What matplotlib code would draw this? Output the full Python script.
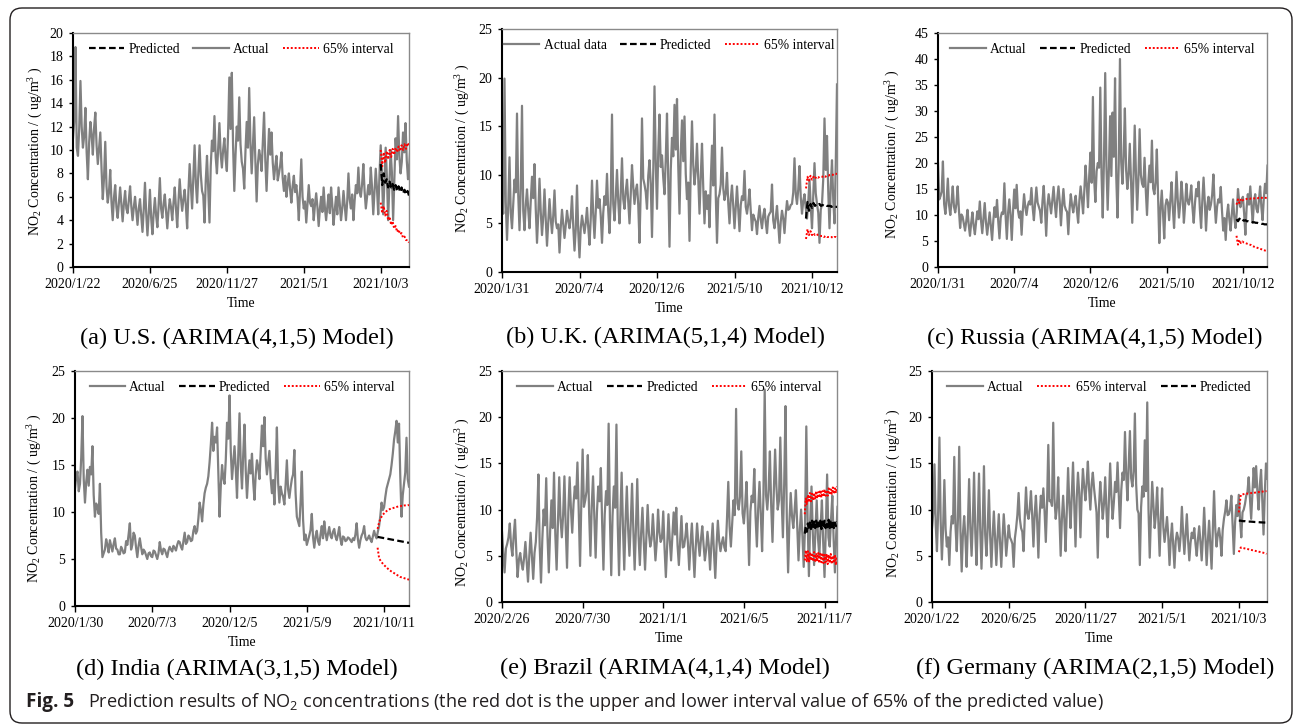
import numpy as np
import matplotlib.pyplot as plt
from matplotlib.patches import FancyBboxPatch
from matplotlib.transforms import IdentityTransform

plt.rcParams['font.family'] = 'Liberation Serif'
plt.rcParams['mathtext.default'] = 'regular'

# actual NO2 values, one reading every 2.5 days from the first tick date
us_actual = [11.0, 12.5, 18.8, 10.2, 9.5, 11.8, 15.9, 12.0, 10.2, 11.2, 13.6, 9.8, 7.5, 10.6, 12.4, 11.3, 9.6, 11.9, 13.2, 10.4,
             8.8, 10.1, 11.5, 8.4, 5.8, 7.6, 10.7, 6.9, 5.5, 6.4, 8.3, 5.6, 4.0, 5.9, 7.0, 5.1, 4.2, 5.5, 6.8, 5.3,
             3.9, 5.4, 6.5, 5.0, 4.6, 5.7, 6.9, 5.2, 4.0, 5.1, 6.0, 4.8, 3.6, 5.0, 5.8, 4.4, 3.0, 4.9, 7.2, 4.6,
             2.7, 4.5, 6.6, 4.2, 2.8, 4.6, 5.9, 4.4, 3.4, 5.3, 7.6, 5.0, 4.2, 5.4, 6.2, 4.7, 3.3, 4.8, 5.8, 5.1,
             4.0, 5.5, 6.8, 5.0, 3.4, 5.6, 7.5, 5.9, 4.8, 5.8, 6.6, 5.2, 3.3, 6.4, 8.8, 6.9, 5.0, 7.6, 10.4, 7.2,
             5.5, 8.0, 10.4, 7.9, 6.5, 6.1, 3.8, 7.4, 9.5, 6.7, 3.8, 8.6, 10.8, 9.9, 12.9, 9.4, 8.0, 10.1, 12.3, 9.7,
             8.5, 10.0, 11.0, 9.3, 8.2, 11.5, 16.2, 11.8, 16.6, 10.4, 6.5, 9.6, 12.0, 10.8, 14.5, 10.5, 9.0, 8.4, 6.7, 9.9,
             12.4, 10.2, 15.3, 10.6, 8.0, 10.3, 12.8, 9.0, 5.6, 8.8, 10.0, 9.4, 8.2, 10.7, 13.2, 9.1, 6.5, 9.3, 11.8, 9.6,
             11.5, 8.9, 7.5, 8.6, 9.5, 7.4, 8.0, 8.7, 9.8, 7.6, 6.5, 7.8, 6.0, 7.1, 8.0, 6.6, 5.5, 6.9, 7.8, 6.4,
             7.0, 5.9, 4.0, 6.6, 9.2, 6.0, 5.0, 5.6, 3.8, 5.4, 7.0, 5.5, 5.2, 5.8, 4.0, 5.3, 6.3, 5.1, 3.5, 5.0,
             6.0, 4.7, 6.8, 5.1, 4.0, 5.2, 6.2, 4.6, 6.8, 5.3, 3.6, 4.9, 6.0, 4.5, 6.8, 5.4, 4.0, 5.0, 6.5, 5.2,
             4.0, 5.6, 8.0, 5.8, 5.0, 6.2, 4.0, 5.7, 7.0, 6.3, 8.5, 6.4, 6.0, 7.1, 8.8, 6.5, 5.0, 6.0, 7.0, 6.2,
             8.5, 6.8, 4.5, 6.5, 8.4, 6.7, 4.5, 7.9, 10.4, 7.8, 4.5, 7.4, 10.2, 7.7, 4.0, 7.2, 10.0, 8.1, 4.0, 7.5,
             11.0, 9.2, 12.9, 9.5, 8.0, 9.0, 11.5, 9.8, 12.3, 9.1, 7.5, 8.7, 10.5]
uk_actual = [7.3, 6.0, 19.9, 7.2, 3.3, 6.8, 11.8, 6.1, 4.5, 7.0, 9.5, 8.2, 16.3, 7.9, 4.3, 8.6, 17.1, 6.3, 4.3, 6.9,
             8.5, 6.4, 4.5, 7.3, 9.8, 7.6, 11.1, 6.5, 3.0, 5.9, 9.6, 6.2, 3.8, 5.7, 8.5, 5.4, 2.7, 5.1, 7.5, 5.5,
             4.0, 5.8, 8.4, 5.2, 4.5, 4.9, 2.0, 4.6, 6.4, 5.0, 3.5, 4.8, 6.3, 5.3, 4.5, 5.6, 7.8, 4.7, 2.2, 4.4,
             8.9, 4.2, 1.5, 4.5, 5.8, 4.9, 4.0, 5.1, 6.6, 4.6, 2.8, 5.5, 9.4, 5.9, 3.5, 6.2, 9.4, 6.6, 7.5, 5.8,
             3.0, 6.1, 7.8, 6.9, 10.1, 6.3, 4.0, 7.4, 16.2, 7.0, 5.3, 7.7, 10.5, 7.3, 5.0, 8.1, 11.7, 7.5, 6.5, 8.3,
             9.5, 7.2, 5.0, 8.0, 11.0, 8.8, 7.0, 8.4, 9.0, 6.9, 3.0, 8.5, 15.8, 9.6, 9.0, 8.2, 6.5, 9.9, 11.5, 9.1,
             3.6, 10.3, 19.1, 11.2, 6.5, 12.4, 16.2, 10.8, 12.0, 9.7, 8.0, 11.6, 16.3, 9.4, 2.6, 10.5, 13.8, 11.9, 17.2, 12.6,
             17.8, 10.9, 6.0, 12.2, 15.6, 11.4, 16.0, 10.1, 7.5, 9.2, 3.2, 10.7, 15.5, 11.0, 9.0, 10.4, 13.2, 9.5, 6.0, 9.8,
             13.2, 8.7, 5.0, 8.3, 6.5, 7.9, 4.6, 9.3, 13.0, 8.9, 16.2, 8.0, 3.0, 7.6, 8.0, 9.0, 12.8, 8.6, 7.4, 8.1,
             10.2, 7.1, 5.0, 7.5, 8.9, 6.8, 4.5, 6.6, 8.8, 6.4, 4.2, 6.9, 7.8, 7.4, 10.4, 6.7, 6.0, 7.0, 8.5, 6.3,
             4.3, 5.9, 5.5, 5.2, 3.9, 5.6, 6.8, 5.4, 4.5, 5.8, 6.5, 5.1, 4.0, 5.7, 6.0, 6.2, 9.0, 5.3, 4.5, 5.6,
             6.8, 4.9, 3.0, 5.2, 6.3, 5.5, 4.0, 5.9, 7.3, 6.4, 6.5, 6.9, 7.0, 8.2, 11.7, 8.0, 7.0, 8.5, 10.9, 7.7,
             6.0, 7.3, 8.0, 6.6, 5.5, 7.2, 9.5, 6.8, 4.5, 7.9, 11.2, 8.1, 7.0, 6.1, 3.0, 6.4, 7.0, 9.6, 15.8, 10.5,
             14.0, 8.3, 4.5, 8.8, 11.5, 7.5, 5.0, 11.0, 19.3]
ru_actual = [20.0, 13.0, 13.6, 14.5, 20.3, 12.1, 10.2, 12.8, 17.0, 11.9, 10.0, 12.5, 15.5, 11.6, 10.5, 12.2, 15.5, 11.0, 7.5, 10.1,
             9.7, 8.4, 7.0, 8.8, 11.0, 8.1, 6.0, 8.5, 10.5, 7.9, 6.3, 8.7, 10.7, 9.2, 12.6, 8.9, 6.5, 9.4, 12.3, 8.6,
             6.2, 8.3, 10.5, 7.8, 5.2, 9.0, 11.5, 9.6, 12.9, 8.8, 5.5, 9.5, 10.5, 10.2, 16.1, 9.8, 5.4, 10.4, 13.0, 10.0,
             5.2, 10.6, 14.9, 11.3, 15.8, 11.0, 9.5, 10.7, 6.2, 10.9, 14.0, 11.5, 10.0, 11.8, 12.6, 12.0, 15.2, 11.4, 9.0, 12.3,
             15.3, 12.4, 11.6, 10.8, 8.5, 12.7, 15.6, 11.2, 6.0, 11.7, 14.0, 12.1, 10.3, 12.9, 15.4, 12.2, 9.6, 13.1, 15.5, 12.6,
             8.0, 12.0, 15.0, 11.8, 11.0, 10.6, 6.3, 11.1, 14.0, 11.9, 10.5, 12.3, 13.7, 10.9, 8.5, 12.8, 15.5, 13.2, 10.3, 14.6,
             19.5, 15.8, 11.5, 17.6, 22.0, 16.2, 32.7, 17.0, 12.5, 18.4, 20.0, 19.1, 34.5, 18.0, 9.5, 20.6, 37.3, 19.4, 11.0, 18.8,
             29.0, 17.5, 29.7, 21.2, 36.3, 17.3, 9.5, 19.8, 40.0, 20.3, 16.0, 21.5, 30.5, 18.7, 15.0, 17.9, 23.7, 16.6, 8.5, 17.2,
             27.2, 18.1, 11.0, 16.9, 26.5, 17.7, 16.0, 15.4, 21.0, 14.8, 10.0, 15.9, 19.5, 16.3, 24.3, 15.1, 14.0, 16.4, 22.6, 13.8,
             4.6, 11.2, 14.7, 10.4, 5.5, 11.8, 13.0, 12.4, 9.0, 12.9, 16.3, 11.5, 7.5, 12.6, 18.3, 13.0, 9.5, 12.1, 16.4, 13.4,
             8.5, 11.9, 16.0, 12.7, 12.0, 13.3, 15.7, 11.4, 8.5, 12.2, 15.0, 13.6, 16.4, 11.1, 7.5, 12.8, 17.2, 12.5, 7.0, 11.7,
             13.5, 11.0, 12.0, 13.9, 17.8, 12.3, 8.5, 11.6, 13.0, 12.4, 15.4, 10.8, 7.0, 9.4, 5.2, 9.9, 12.0, 9.1, 7.0, 10.2,
             13.0, 9.6, 7.5, 10.5, 15.0, 12.4, 11.5, 12.9, 13.5, 10.3, 6.2, 11.3, 14.0, 12.0, 15.5, 11.8, 8.5, 12.6, 14.0, 11.2,
             10.5, 12.7, 15.5, 11.6, 9.0, 13.1, 16.0, 14.2, 19.5]
in_actual = [12.5, 13.8, 14.3, 12.2, 13.0, 15.8, 20.2, 13.5, 11.0, 13.2, 14.5, 12.8, 14.8, 14.0, 17.0, 11.8, 9.5, 10.9, 10.5, 9.8,
             13.0, 7.8, 5.2, 5.6, 6.0, 7.1, 6.5, 5.7, 7.0, 6.4, 5.8, 6.6, 7.2, 6.1, 6.0, 5.5, 5.5, 6.3, 6.0, 5.6,
             5.7, 6.9, 6.5, 7.6, 8.8, 6.0, 6.5, 7.8, 7.5, 6.2, 5.2, 6.4, 7.2, 6.3, 5.5, 6.0, 5.8, 5.4, 5.0, 5.6,
             5.7, 5.3, 5.2, 5.9, 5.8, 5.4, 5.0, 5.6, 6.8, 5.9, 5.5, 6.1, 6.0, 5.6, 5.2, 5.9, 6.3, 6.0, 5.8, 6.4,
             6.2, 5.9, 6.5, 6.9, 6.8, 6.3, 6.0, 6.9, 7.8, 6.6, 6.8, 7.5, 7.3, 6.9, 7.0, 8.0, 8.5, 7.7, 8.0, 9.3,
             11.0, 10.2, 9.0, 10.8, 12.0, 12.6, 13.0, 13.8, 15.3, 17.2, 19.5, 16.5, 18.0, 17.4, 19.0, 14.2, 9.5, 12.8, 15.0, 13.6,
             13.0, 15.6, 19.5, 17.8, 22.4, 16.4, 13.5, 15.2, 17.0, 14.6, 11.5, 16.0, 20.5, 15.0, 12.5, 16.2, 19.3, 14.4, 11.5, 13.9,
             15.5, 14.1, 16.2, 13.2, 11.3, 14.0, 15.5, 14.8, 13.5, 16.4, 19.2, 17.0, 20.1, 15.7, 14.0, 15.3, 16.5, 13.6, 12.0, 13.4,
             10.8, 14.5, 19.0, 13.1, 11.0, 12.7, 12.0, 11.6, 10.8, 12.9, 15.5, 12.4, 11.5, 12.6, 13.5, 14.0, 16.6, 12.0, 9.5, 9.0,
             8.5, 11.0, 14.3, 9.2, 7.0, 7.6, 6.5, 7.0, 7.5, 8.1, 9.8, 7.3, 6.2, 7.4, 8.0, 6.9, 6.5, 7.6, 8.5, 7.2,
             9.0, 7.8, 7.0, 7.7, 8.4, 7.5, 7.2, 7.9, 8.2, 7.4, 7.0, 7.6, 8.4, 7.1, 6.5, 7.4, 7.3, 6.9, 7.0, 7.3,
             7.2, 7.0, 6.8, 7.2, 7.0, 7.6, 8.8, 7.1, 6.2, 7.0, 7.5, 7.8, 8.5, 7.3, 7.0, 7.2, 7.5, 7.1, 6.8, 7.4,
             8.0, 7.5, 7.2, 7.9, 8.5, 9.6, 11.0, 10.2, 10.5, 11.6, 12.5, 13.0, 13.5, 14.0, 15.0, 16.2, 17.7, 18.6, 19.7, 17.4,
             19.4, 13.8, 9.5, 11.8, 13.0, 14.2, 17.9, 13.5, 12.7]
br_actual = [7.6, 5.2, 3.2, 5.8, 6.3, 7.0, 8.5, 6.1, 5.0, 7.2, 8.9, 5.5, 2.7, 4.6, 5.3, 4.2, 3.5, 4.8, 6.5, 4.4,
             2.2, 5.0, 7.5, 4.9, 2.5, 5.3, 6.5, 9.2, 13.8, 6.0, 2.1, 6.8, 10.0, 8.3, 13.4, 7.1, 3.2, 7.6, 11.0, 8.0,
             14.0, 7.3, 3.5, 8.7, 13.5, 9.0, 7.0, 9.4, 13.6, 8.1, 3.7, 9.8, 13.5, 10.1, 7.5, 10.6, 12.5, 11.2, 15.1, 9.9,
             3.9, 10.8, 16.5, 10.3, 11.0, 12.0, 15.9, 9.6, 5.0, 10.4, 13.6, 9.2, 4.8, 9.7, 12.5, 10.9, 14.5, 8.6, 3.5, 9.5,
             12.0, 10.5, 19.3, 8.9, 2.9, 9.3, 12.5, 10.2, 19.2, 8.4, 2.9, 9.1, 14.0, 8.2, 3.5, 8.8, 12.5, 7.9, 5.0, 8.5,
             12.8, 7.7, 3.5, 8.0, 13.3, 7.2, 4.0, 7.5, 10.2, 6.6, 3.5, 7.0, 10.5, 7.4, 6.0, 6.8, 9.5, 7.1, 4.5, 6.5,
             10.0, 7.6, 6.5, 6.9, 9.8, 5.8, 2.7, 6.2, 9.5, 6.7, 4.5, 7.0, 9.7, 7.3, 10.2, 6.1, 4.0, 6.6, 9.3, 5.9,
             6.0, 7.1, 8.5, 6.3, 3.5, 6.4, 8.5, 5.6, 2.7, 6.0, 8.5, 6.5, 5.0, 6.8, 8.2, 6.2, 4.5, 5.7, 7.6, 6.1,
             3.5, 6.3, 8.5, 5.4, 2.6, 6.2, 8.8, 6.6, 5.5, 6.4, 7.0, 5.9, 5.5, 9.0, 13.0, 8.2, 6.0, 8.6, 11.0, 9.4,
             20.9, 10.7, 10.0, 11.4, 16.3, 9.6, 8.5, 10.5, 13.0, 8.9, 4.0, 9.8, 11.5, 10.8, 14.4, 9.2, 6.0, 10.1, 13.0, 9.5,
             5.5, 11.3, 23.0, 11.6, 10.0, 12.2, 16.3, 10.4, 6.5, 11.9, 16.5, 12.5, 10.0, 11.0, 17.8, 11.4, 7.0, 12.8, 21.2, 9.1,
             3.2, 8.6, 11.8, 9.3, 8.0, 9.9, 12.1, 8.4, 4.5, 7.8, 10.0, 7.2, 3.8, 8.1, 19.0, 9.0, 2.8, 8.7, 12.5, 7.4,
             4.0, 7.7, 11.0, 6.9, 5.0, 8.2, 11.0, 6.4, 2.7, 7.9, 13.8, 7.0, 6.0, 8.9, 11.5, 6.8, 3.2, 7.3, 10.3]
de_actual = [8.0, 9.6, 14.9, 8.4, 5.5, 9.9, 17.8, 8.8, 4.6, 8.1, 13.2, 7.9, 6.0, 7.0, 4.0, 7.6, 9.3, 8.5, 15.7, 8.2,
             5.5, 9.1, 16.8, 7.7, 3.3, 7.4, 9.3, 6.9, 3.8, 8.3, 13.3, 8.0, 5.0, 8.7, 14.0, 7.5, 4.0, 8.6, 13.9, 7.8,
             3.6, 8.2, 14.7, 7.3, 5.0, 8.0, 12.1, 7.2, 3.8, 7.1, 9.8, 6.8, 4.0, 7.0, 9.5, 6.5, 3.8, 6.9, 9.5, 7.4,
             5.0, 6.6, 8.3, 7.0, 6.7, 6.3, 3.8, 6.9, 8.0, 9.4, 11.8, 9.0, 8.0, 7.6, 5.5, 9.2, 12.4, 9.6, 9.0, 10.1,
             12.0, 9.3, 6.0, 9.5, 11.5, 8.7, 4.8, 9.4, 11.5, 10.2, 12.3, 9.8, 6.5, 10.6, 17.0, 10.9, 11.0, 10.4, 19.4, 11.2,
             9.0, 10.3, 13.5, 9.2, 5.0, 9.0, 11.5, 8.9, 5.5, 10.0, 14.5, 10.7, 8.0, 11.4, 15.1, 10.5, 6.0, 11.3, 14.0, 11.8,
             7.0, 11.6, 14.4, 12.5, 11.0, 12.9, 15.2, 12.2, 10.0, 12.7, 14.0, 12.3, 11.0, 9.7, 4.8, 10.3, 13.0, 11.1, 9.0, 10.6,
             13.5, 10.0, 7.0, 10.9, 15.0, 11.5, 9.0, 10.8, 13.0, 11.9, 15.1, 11.7, 8.0, 12.1, 14.0, 13.2, 18.4, 13.8, 11.0, 14.6,
             18.5, 13.4, 12.5, 14.1, 20.4, 12.8, 10.0, 9.6, 4.0, 10.2, 12.5, 11.4, 17.5, 12.0, 21.6, 10.1, 4.8, 9.3, 13.0, 10.4,
             8.0, 9.5, 12.4, 8.8, 5.0, 9.1, 12.3, 8.1, 6.5, 7.8, 9.2, 7.1, 4.0, 6.8, 8.5, 6.2, 3.7, 6.6, 7.5, 6.9,
             5.5, 7.2, 10.3, 7.4, 5.2, 7.3, 9.5, 6.7, 4.5, 6.4, 7.5, 6.9, 8.0, 6.3, 5.0, 6.8, 8.2, 6.5, 4.5, 7.0,
             10.2, 7.1, 4.0, 6.6, 8.8, 6.1, 3.6, 7.7, 12.0, 7.9, 6.0, 7.3, 8.0, 6.9, 5.0, 7.8, 9.0, 9.8, 11.0, 9.4,
             9.5, 10.1, 11.5, 8.3, 5.2, 8.6, 10.5, 9.3, 11.6, 9.0, 7.0, 9.7, 10.0, 10.6, 11.5, 11.9, 13.5, 11.2, 9.0, 11.8,
             14.5, 12.4, 14.7, 12.0, 10.0, 12.6, 14.3, 11.0, 7.3, 11.7, 15.0, 13.3, 14.9]

# forecast window: predicted value and 65% interval bounds
us_pred = [8.8, 7.0, 8.0, 7.2, 7.5, 6.8, 7.3, 6.8, 7.1, 6.6, 7.0, 6.5, 6.9, 6.4, 6.8, 6.3, 6.6, 6.2, 6.5, 6.1]
us_upper = [10.0, 8.6, 9.8, 8.9, 9.9, 9.2, 10.0, 9.4, 10.1, 9.6, 10.2, 9.8, 10.3, 9.9, 10.4, 10.0, 10.5, 10.1, 10.6, 10.4]
us_lower = [5.5, 4.6, 5.2, 4.4, 4.8, 4.0, 4.3, 3.6, 3.9, 3.3, 3.5, 3.0, 3.2, 2.8, 2.9, 2.5, 2.6, 2.3, 2.3, 2.1]
uk_pred = [5.5, 7.2, 6.3, 7.0, 6.6, 7.1, 6.8, 7.0, 6.9, 7.0, 6.8, 6.9, 6.8, 6.9, 6.8, 6.8, 6.8, 6.7, 6.8, 6.7, 6.7, 6.7]
uk_upper = [8.6, 9.8, 9.4, 9.9, 9.5, 9.8, 9.6, 9.8, 9.7, 9.8, 9.8, 9.8, 9.9, 9.8, 9.9, 9.9, 10.0, 10.0, 10.0, 10.1, 10.1, 10.1]
uk_lower = [3.4, 4.4, 3.8, 4.2, 3.8, 4.0, 3.8, 3.9, 3.8, 3.8, 3.7, 3.7, 3.6, 3.7, 3.6, 3.6, 3.6, 3.6, 3.5, 3.6, 3.6, 3.5]
ru_pred = [9.2, 8.8, 9.3, 8.9, 9.1, 8.9, 9.0, 8.8, 8.8, 8.7, 8.7, 8.6, 8.6, 8.5, 8.5, 8.4, 8.4, 8.3, 8.3, 8.2, 8.2, 8.2]
ru_upper = [12.0, 13.0, 12.3, 13.1, 12.8, 13.0, 13.0, 13.1, 13.1, 13.1, 13.2, 13.2, 13.2, 13.2, 13.2, 13.3, 13.3, 13.3, 13.3, 13.3, 13.3, 13.3]
ru_lower = [6.0, 4.3, 5.2, 4.6, 4.9, 4.7, 4.6, 4.5, 4.4, 4.3, 4.2, 4.0, 3.9, 3.8, 3.7, 3.6, 3.5, 3.4, 3.3, 3.2, 3.1, 3.0]
in_pred = [7.35, 7.32, 7.29, 7.26, 7.23, 7.2, 7.17, 7.14, 7.11, 7.08, 7.05, 7.02, 6.99, 6.96, 6.93, 6.9, 6.87, 6.84, 6.81, 6.78, 6.75, 6.72]
in_upper = [8.2, 8.9, 9.3, 9.6, 9.8, 9.95, 10.1, 10.2, 10.3, 10.35, 10.4, 10.45, 10.5, 10.55, 10.6, 10.6, 10.65, 10.65, 10.7, 10.7, 10.7, 10.75]
in_lower = [6.2, 5.1, 4.8, 4.6, 4.4, 4.25, 4.1, 3.95, 3.8, 3.7, 3.6, 3.5, 3.4, 3.3, 3.2, 3.1, 3.05, 3.0, 2.95, 2.9, 2.85, 2.8]
br_pred = [7.4, 8.2, 7.6, 8.5, 7.8, 8.6, 7.9, 8.8, 7.9, 8.7, 8.0, 8.8, 7.9, 8.6, 8.1, 8.8,
           7.9, 8.7, 8.0, 8.8, 8.0, 8.6, 8.1, 8.9, 8.0, 8.7, 8.1, 8.8, 8.0, 8.6, 8.2, 8.7]
br_upper = [9.5, 11.2, 10.6, 11.6, 10.8, 11.8, 10.9, 11.9, 11.0, 11.8, 11.1, 12.0, 11.2, 11.9, 11.3, 12.1,
            11.3, 12.0, 11.4, 12.2, 11.5, 12.1, 11.5, 12.3, 11.6, 12.2, 11.7, 12.4, 11.7, 12.3, 11.8, 12.5]
br_lower = [4.5, 5.6, 4.4, 5.5, 4.3, 5.4, 4.5, 5.3, 4.4, 5.4, 4.3, 5.2, 4.4, 5.3, 4.2, 5.2,
            4.3, 5.3, 4.2, 5.1, 4.3, 5.2, 4.1, 5.1, 4.2, 5.2, 4.1, 5.0, 4.2, 5.1, 4.0, 5.0]
de_pred = [8.8, 8.8, 8.75, 8.75, 8.7, 8.7, 8.7, 8.68, 8.66, 8.65, 8.64, 8.62, 8.61, 8.6, 8.6]
de_upper = [9.7, 11.6, 11.65, 11.7, 11.72, 11.75, 11.78, 11.8, 11.83, 11.86, 11.9, 11.92, 11.95, 11.98, 12.0]
de_lower = [5.4, 5.9, 5.85, 5.8, 5.75, 5.7, 5.65, 5.6, 5.55, 5.5, 5.45, 5.4, 5.35, 5.3, 5.2]

us_ticks = ['2020/1/22', '2020/6/25', '2020/11/27', '2021/5/1', '2021/10/3']
uk_ticks = ['2020/1/31', '2020/7/4', '2020/12/6', '2021/5/10', '2021/10/12']
ru_ticks = ['2020/1/31', '2020/7/4', '2020/12/6', '2021/5/10', '2021/10/12']
in_ticks = ['2020/1/30', '2020/7/3', '2020/12/5', '2021/5/9', '2021/10/11']
br_ticks = ['2020/2/26', '2020/7/30', '2021/1/1', '2021/6/5', '2021/11/7']
de_ticks = ['2020/1/22', '2020/6/25', '2020/11/27', '2021/5/1', '2021/10/3']
tick_days = [0, 155, 310, 465, 620]

W, H = 1295, 726

panels = [
    dict(actual=us_actual, pred=us_pred, upper=us_upper, lower=us_lower, start=620, step=3,
         ticks=us_ticks, xmax=677, ymax=20, ystep=2, act_label='Actual', order=('pred', 'act', 'band'),
         box=(73, 33, 409, 267), ylab=(36, 151), xlab=303, title='(a) U.S. (ARIMA(4,1,5) Model)', tpos=(237, 338)),
    dict(actual=uk_actual, pred=uk_pred, upper=uk_upper, lower=uk_lower, start=608, step=3,
         ticks=uk_ticks, xmax=670, ymax=25, ystep=5, act_label='Actual data', order=('act', 'pred', 'band'),
         box=(502, 29, 837, 272), ylab=(463, 148), xlab=308, title='(b) U.K. (ARIMA(5,1,4) Model)', tpos=(665, 337)),
    dict(actual=ru_actual, pred=ru_pred, upper=ru_upper, lower=ru_lower, start=607, step=3,
         ticks=ru_ticks, xmax=669, ymax=45, ystep=5, act_label='Actual', order=('act', 'pred', 'band'),
         box=(938, 33, 1267, 267), ylab=(893, 154), xlab=303, title='(c) Russia (ARIMA(4,1,5) Model)', tpos=(1095, 338)),
    dict(actual=in_actual, pred=in_pred, upper=in_upper, lower=in_lower, start=607, step=3,
         ticks=in_ticks, xmax=670, ymax=25, ystep=5, act_label='Actual', order=('act', 'pred', 'band'),
         box=(75, 371, 409, 606), ylab=(35, 498), xlab=642, title='(d) India (ARIMA(3,1,5) Model)', tpos=(237, 669)),
    dict(actual=br_actual, pred=br_pred, upper=br_upper, lower=br_lower, start=582, step=2,
         ticks=br_ticks, xmax=644, ymax=25, ystep=5, act_label='Actual', order=('act', 'pred', 'band'),
         box=(502, 371, 837, 602), ylab=(463, 502), xlab=638, title='(e) Brazil (ARIMA(4,1,4) Model)', tpos=(665, 668)),
    dict(actual=de_actual, pred=de_pred, upper=de_upper, lower=de_lower, start=620, step=4,
         ticks=de_ticks, xmax=677, ymax=25, ystep=5, act_label='Actual', order=('act', 'band', 'pred'),
         box=(932, 371, 1267, 602), ylab=(894, 493), xlab=639, title='(f) Germany (ARIMA(2,1,5) Model)', tpos=(1095, 668)),
]

fig = plt.figure(figsize=(W / 100, H / 100), dpi=100)

for p in panels:
    l, t, r, b = p['box']
    ax = fig.add_axes([l / W, 1 - b / H, (r - l) / W, (b - t) / H])

    days = np.arange(len(p['actual'])) * 2.5
    h_act, = ax.plot(days, p['actual'], color='#808080', lw=1.6, zorder=2)
    up_days = p['start'] + np.arange(len(p['upper'])) * p['step']
    lo_days = p['start'] + np.arange(len(p['lower'])) * p['step']
    pr_days = p['start'] + np.arange(len(p['pred'])) * p['step']
    h_band, = ax.plot(up_days, p['upper'], color='red', ls=(0, (1, 1)), lw=1.4, zorder=3)
    ax.plot(lo_days, p['lower'], color='red', ls=(0, (1, 1)), lw=1.4, zorder=3)
    h_pred, = ax.plot(pr_days, p['pred'], color='black', ls=(0, (3, 1.5)), lw=1.6, zorder=4)

    handles = {'act': (h_act, p['act_label']), 'pred': (h_pred, 'Predicted'), 'band': (h_band, '65% interval')}
    hs = [handles[k][0] for k in p['order']]
    ls = [handles[k][1] for k in p['order']]
    ax.legend(hs, ls, loc='upper center', ncol=3, frameon=False, fontsize=9.8,
              handlelength=2.6, handletextpad=0.3, columnspacing=1.0, borderaxespad=0.3)

    ax.set_xlim(0, p['xmax'])
    ax.set_ylim(0, p['ymax'])
    ax.set_xticks(tick_days)
    ax.set_xticklabels(p['ticks'])
    ax.set_yticks(np.arange(0, p['ymax'] + 0.1, p['ystep']))
    ax.tick_params(axis='x', length=4, width=1, pad=4, labelsize=10)
    ax.tick_params(axis='y', length=3, width=1, pad=4, labelsize=10)
    for s in ['left', 'bottom']:
        ax.spines[s].set_linewidth(1.5)
    for s in ['top', 'right']:
        ax.spines[s].set_color('#8a8a8a')
        ax.spines[s].set_linewidth(1.0)

    fig.text(p['ylab'][0] / W, 1 - p['ylab'][1] / H, 'NO$_2$ Concentration / ( ug/m$^3$ )',
             rotation=90, ha='center', va='center', fontsize=10)
    fig.text(((l + r) / 2) / W, 1 - p['xlab'] / H, 'Time', ha='center', va='center', fontsize=10)
    fig.text(p['tpos'][0] / W, 1 - p['tpos'][1] / H, p['title'], ha='center', va='center', fontsize=17.5)

# caption under the panels
fig.text(26 / W, 1 - 707 / H, 'Fig. 5', fontfamily='Open Sans', fontweight='bold',
         fontsize=13.6, va='baseline', color='#231f20')
fig.text(88 / W, 1 - 707 / H,
         'Prediction results of NO$_2$ concentrations (the red dot is the upper and lower interval value of 65% of the predicted value)',
         fontfamily='Open Sans', fontsize=13.1, va='baseline', color='#231f20')

frame = FancyBboxPatch((10, 3), 1282, 715, boxstyle='round,pad=0,rounding_size=12',
                       transform=IdentityTransform(), facecolor='none', edgecolor='#231f20', lw=1.0)
fig.patches.append(frame)

fig.savefig('out.png', dpi=100)
